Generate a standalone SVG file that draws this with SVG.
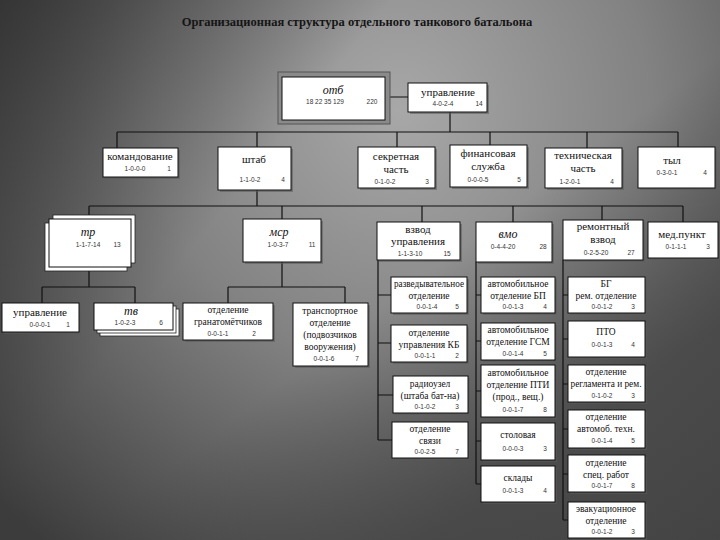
<svg xmlns="http://www.w3.org/2000/svg" width="720" height="540" viewBox="0 0 720 540">
<defs>
<radialGradient id="bg" cx="400" cy="110" r="560" gradientUnits="userSpaceOnUse">
<stop offset="0" stop-color="#a8a8a8"/>
<stop offset="0.45" stop-color="#828282"/>
<stop offset="1" stop-color="#3c3c3c"/>
</radialGradient>
<linearGradient id="tl" x1="0" y1="0" x2="1" y2="0.6">
<stop offset="0" stop-color="#2e2e2e" stop-opacity="0.85"/>
<stop offset="0.4" stop-color="#2e2e2e" stop-opacity="0"/>
</linearGradient>
<linearGradient id="br" x1="0" y1="0" x2="1" y2="1">
<stop offset="0.55" stop-color="#444" stop-opacity="0"/>
<stop offset="0.8" stop-color="#444" stop-opacity="0.8"/>
</linearGradient>
</defs>
<style>
.b{fill:#fff;stroke:#111;stroke-width:1}
.s{fill:#5a5a5a;opacity:0.55}
.st{fill:#fff;stroke:#222;stroke-width:0.8}
.t{font-family:"Liberation Serif",serif;font-size:11px;fill:#111;text-anchor:middle}
.c{font-size:9.5px}
.i{font-style:italic;font-size:12px}
.n{font-family:"Liberation Sans",sans-serif;font-size:6.5px;fill:#333;text-anchor:middle}
.l{fill:none;stroke:#111;stroke-width:1.2}
</style>
<rect width="720" height="540" fill="url(#bg)"/>
<rect width="720" height="540" fill="url(#tl)"/>
<rect width="720" height="540" fill="url(#br)"/>
<text x="357" y="26" style="font-family:'Liberation Serif',serif;font-size:12.5px;font-weight:bold;fill:#151515;text-anchor:middle">Организационная структура отдельного танкового батальона</text>

<g id="connectors" class="l">
<path d="M385 97H408M450 112V132M117 132H678M117 132V148M257 132V147M397 132V147M490 132V145M587 132V148M678 132V147"/>
<path d="M257 190V206M89 206H683M89 206V219M282 206V219M422 206V222M513 206V222M602 206V220M683 206V222"/>
<path d="M89 267V287M42 287H135M42 287V303M135 287V303M282 262V287M228 287H345M228 287V303M345 287V303"/>
<path d="M378 260V440M378 295H391M378 343H391M378 395H393M378 440H392"/>
<path d="M476 262V484M476 295H481M476 341H481M476 391H481M476 441H481M476 484H481"/>
<path d="M563 260V520M563 295H568M563 339H568M563 384H568M563 429H568M563 474H568M563 520H568"/>
</g>

<g id="otb"><rect x="278" y="72" width="112" height="52" fill="#8a8a8a" stroke="#555"/><rect class="b" x="282" y="77" width="103" height="43"/><text class="t i" x="333" y="94">отб</text><text class="n" x="325" y="104">18 22 35 129</text><text class="n" x="372" y="104">220</text></g>
<g id="upr"><rect class="s" x="410" y="85" width="79" height="29"/><rect class="b" x="408" y="83" width="79" height="29"/><text class="t" x="448" y="96">управление</text><text class="n" x="443" y="106">4-0-2-4</text><text class="n" x="479" y="106">14</text></g>

<g id="komand"><rect class="s" x="105" y="150" width="75" height="29"/><rect class="b" x="103" y="148" width="75" height="29"/><text class="t" x="140" y="160">командование</text><text class="n" x="135" y="171">1-0-0-0</text><text class="n" x="169" y="171">1</text></g>
<g id="shtab"><rect class="s" x="220" y="149" width="73" height="43"/><rect class="b" x="218" y="147" width="73" height="43"/><text class="t" x="254" y="163">штаб</text><text class="n" x="250" y="182">1-1-0-2</text><text class="n" x="283" y="182">4</text></g>
<g id="sekret"><rect class="s" x="360" y="149" width="77" height="41"/><rect class="b" x="358" y="147" width="77" height="41"/><text class="t" x="396" y="160">секретная</text><text class="t" x="396" y="173">часть</text><text class="n" x="385" y="184">0-1-0-2</text><text class="n" x="427" y="184">3</text></g>
<g id="fin"><rect class="s" x="452" y="147" width="77" height="42"/><rect class="b" x="450" y="145" width="77" height="42"/><text class="t" x="488" y="157">финансовая</text><text class="t" x="488" y="170">служба</text><text class="n" x="478" y="182">0-0-0-5</text><text class="n" x="519" y="182">5</text></g>
<g id="tech"><rect class="s" x="547" y="150" width="77" height="40"/><rect class="b" x="545" y="148" width="77" height="40"/><text class="t" x="583" y="159">техническая</text><text class="t" x="583" y="172">часть</text><text class="n" x="570" y="184">1-2-0-1</text><text class="n" x="612" y="184">4</text></g>
<g id="tyl"><rect class="s" x="640" y="149" width="77" height="41"/><rect class="b" x="638" y="147" width="77" height="41"/><text class="t" x="672" y="164">тыл</text><text class="n" x="667" y="175">0-3-0-1</text><text class="n" x="705" y="175">4</text></g>

<g id="tr"><rect class="st" x="53" y="215" width="82" height="48"/><rect class="st" x="45" y="223" width="82" height="48"/><rect class="b" x="49" y="219" width="82" height="48"/><text class="t i" x="88" y="236">тр</text><text class="n" x="88" y="247">1-1-7-14</text><text class="n" x="117" y="247">13</text></g>
<g id="msr"><rect class="s" x="245" y="221" width="78" height="43"/><rect class="b" x="243" y="219" width="78" height="43"/><text class="t i" x="279" y="236">мср</text><text class="n" x="278" y="247">1-0-3-7</text><text class="n" x="312" y="247">11</text></g>

<g id="upr2"><rect class="s" x="4" y="305" width="77" height="29"/><rect class="b" x="2" y="303" width="77" height="29"/><text class="t" x="40" y="316">управление</text><text class="n" x="40" y="327">0-0-0-1</text><text class="n" x="68" y="327">1</text></g>
<g id="tv"><rect class="st" x="100" y="309" width="79" height="27"/><rect class="st" x="97" y="306" width="79" height="27"/><rect class="b" x="94" y="303" width="79" height="27"/><text class="t i" x="131" y="315">тв</text><text class="n" x="125" y="325">1-0-2-3</text><text class="n" x="161" y="325">6</text></g>
<g id="grm"><rect class="s" x="185" y="305" width="90" height="37"/><rect class="b" x="183" y="303" width="90" height="37"/><text class="t c" x="228" y="313">отделение</text><text class="t c" x="228" y="325">гранатомётчиков</text><text class="n" x="218" y="336">0-0-1-1</text><text class="n" x="254" y="336">2</text></g>
<g id="trans"><rect class="s" x="295" y="305" width="75" height="63"/><rect class="b" x="293" y="303" width="75" height="63"/><text class="t c" x="330" y="314">транспортное</text><text class="t c" x="330" y="326">отделение</text><text class="t c" x="330" y="338">(подвозчиков</text><text class="t c" x="330" y="350">вооружения)</text><text class="n" x="324" y="361">0-0-1-6</text><text class="n" x="357" y="361">7</text></g>

<g id="vzu"><rect class="s" x="379" y="224" width="83" height="38"/><rect class="b" x="377" y="222" width="83" height="38"/><text class="t" x="418" y="233">взвод</text><text class="t" x="418" y="245">управления</text><text class="n" x="410" y="256">1-1-3-10</text><text class="n" x="447" y="256">15</text></g>
<g id="vmo"><rect class="s" x="478" y="224" width="76" height="40"/><rect class="b" x="476" y="222" width="76" height="40"/><text class="t i" x="508" y="238">вмо</text><text class="n" x="503" y="249">0-4-4-20</text><text class="n" x="543" y="249">28</text></g>
<g id="remv"><rect class="s" x="565" y="222" width="80" height="40"/><rect class="b" x="563" y="220" width="80" height="40"/><text class="t" x="603" y="230">ремонтный</text><text class="t" x="603" y="243">взвод</text><text class="n" x="596" y="255">0-2-5-20</text><text class="n" x="631" y="255">27</text></g>
<g id="med"><rect class="s" x="650" y="224" width="70" height="36"/><rect class="b" x="648" y="222" width="70" height="36"/><text class="t" x="682" y="238">мед.пункт</text><text class="n" x="676" y="249">0-1-1-1</text><text class="n" x="708" y="249">3</text></g>

<g id="razv"><rect class="s" x="393" y="279" width="76" height="36"/><rect class="b" x="391" y="277" width="76" height="36"/><text class="t c" x="429" y="287" textLength="70" lengthAdjust="spacingAndGlyphs">разведывательное</text><text class="t c" x="429" y="299">отделение</text><text class="n" x="427" y="309">0-0-1-4</text><text class="n" x="457" y="309">5</text></g>
<g id="otdkb"><rect class="s" x="393" y="327" width="76" height="37"/><rect class="b" x="391" y="325" width="76" height="37"/><text class="t c" x="429" y="336">отделение</text><text class="t c" x="429" y="348">управления КБ</text><text class="n" x="425" y="358">0-0-1-1</text><text class="n" x="457" y="358">2</text></g>
<g id="radio"><rect class="s" x="395" y="378" width="75" height="37"/><rect class="b" x="393" y="376" width="75" height="37"/><text class="t c" x="430" y="387">радиоузел</text><text class="t c" x="430" y="399">(штаба бат-на)</text><text class="n" x="425" y="409">0-1-0-2</text><text class="n" x="457" y="409">3</text></g>
<g id="svyaz"><rect class="s" x="394" y="424" width="76" height="36"/><rect class="b" x="392" y="422" width="76" height="36"/><text class="t c" x="430" y="432">отделение</text><text class="t c" x="430" y="444">связи</text><text class="n" x="425" y="454">0-0-2-5</text><text class="n" x="457" y="454">7</text></g>

<g id="abp"><rect class="s" x="483" y="279" width="74" height="36"/><rect class="b" x="481" y="277" width="74" height="36"/><text class="t c" x="518" y="287">автомобильное</text><text class="t c" x="518" y="299">отделение БП</text><text class="n" x="513" y="309">0-0-1-3</text><text class="n" x="545" y="309">4</text></g>
<g id="agsm"><rect class="s" x="483" y="325" width="74" height="37"/><rect class="b" x="481" y="323" width="74" height="37"/><text class="t c" x="518" y="333">автомобильное</text><text class="t c" x="518" y="345">отделение ГСМ</text><text class="n" x="513" y="356">0-0-1-4</text><text class="n" x="545" y="356">5</text></g>
<g id="apti"><rect class="s" x="483" y="367" width="74" height="52"/><rect class="b" x="481" y="365" width="74" height="52"/><text class="t c" x="518" y="376">автомобильное</text><text class="t c" x="518" y="388">отделение ПТИ</text><text class="t c" x="518" y="400">(прод., вещ.)</text><text class="n" x="513" y="412">0-0-1-7</text><text class="n" x="545" y="412">8</text></g>
<g id="stol"><rect class="s" x="483" y="425" width="74" height="37"/><rect class="b" x="481" y="423" width="74" height="37"/><text class="t c" x="518" y="438">столовая</text><text class="n" x="513" y="451">0-0-0-3</text><text class="n" x="545" y="451">3</text></g>
<g id="sklad"><rect class="s" x="483" y="468" width="74" height="36"/><rect class="b" x="481" y="466" width="74" height="36"/><text class="t c" x="518" y="481">склады</text><text class="n" x="513" y="493">0-0-1-3</text><text class="n" x="545" y="493">4</text></g>

<g id="bg_rem"><rect class="s" x="570" y="279" width="77" height="36"/><rect class="b" x="568" y="277" width="77" height="36"/><text class="t c" x="606" y="287">БГ</text><text class="t c" x="606" y="299">рем. отделение</text><text class="n" x="602" y="309">0-0-1-2</text><text class="n" x="633" y="309">3</text></g>
<g id="pto"><rect class="s" x="570" y="323" width="77" height="36"/><rect class="b" x="568" y="321" width="77" height="36"/><text class="t c" x="606" y="335">ПТО</text><text class="n" x="602" y="347">0-0-1-3</text><text class="n" x="633" y="347">4</text></g>
<g id="regl"><rect class="s" x="570" y="367" width="77" height="37"/><rect class="b" x="568" y="365" width="77" height="37"/><text class="t c" x="606" y="375">отделение</text><text class="t c" x="606" y="387" textLength="71" lengthAdjust="spacingAndGlyphs">регламента и рем.</text><text class="n" x="602" y="398">0-1-0-2</text><text class="n" x="633" y="398">3</text></g>
<g id="avto"><rect class="s" x="570" y="412" width="77" height="38"/><rect class="b" x="568" y="410" width="77" height="38"/><text class="t c" x="606" y="420">отделение</text><text class="t c" x="606" y="432">автомоб. техн.</text><text class="n" x="602" y="443">0-0-1-4</text><text class="n" x="633" y="443">5</text></g>
<g id="spec"><rect class="s" x="570" y="457" width="77" height="37"/><rect class="b" x="568" y="455" width="77" height="37"/><text class="t c" x="606" y="466">отделение</text><text class="t c" x="606" y="478">спец. работ</text><text class="n" x="602" y="488">0-0-1-7</text><text class="n" x="633" y="488">8</text></g>
<g id="evak"><rect class="s" x="570" y="504" width="77" height="36"/><rect class="b" x="568" y="502" width="77" height="36"/><text class="t c" x="606" y="512">эвакуационное</text><text class="t c" x="606" y="524">отделение</text><text class="n" x="602" y="534">0-0-1-2</text><text class="n" x="633" y="534">3</text></g>
</svg>
